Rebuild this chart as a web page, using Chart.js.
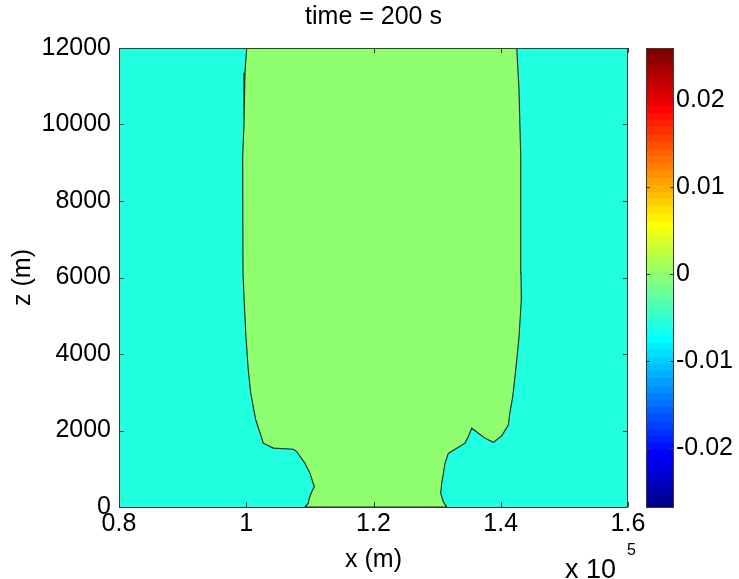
<!DOCTYPE html>
<html lang="en">
<head>
    <meta charset="UTF-8">
    <title>time = 200 s</title>
    <style>
        html, body { margin: 0; padding: 0; background: #fff; }
        #wrap { width: 739px; height: 579px; }
    </style>
</head>
<body>

    <div id="wrap"><canvas id="contourChart" width="739" height="579"></canvas></div>

    <script src="https://cdn.jsdelivr.net/npm/chart.js"></script>
    <script>
        // contour boundary between the two filled levels (top -> bottom)
        const leftX = [100070, 99800, 99650, 99440, 99490, 99690, 99960, 100320, 100700, 101490, 102160, 102680, 104250, 107400, 107930, 109230, 110020, 110700, 110290, 109910, 109750, 109230];
        const leftZ = [12000, 11350, 10040, 9150, 6120, 5330, 4440, 3580, 2980, 2280, 1940, 1670, 1540, 1510, 1450, 1140, 880, 530, 400, 230, 100, 0];
        const rightX = [142510, 142870, 143140, 143180, 143230, 142870, 142350, 141880, 141450, 141190, 140150, 138830, 137520, 135430, 134900, 134380, 131760, 131240, 130720, 130560, 130970, 131500];
        const rightZ = [12000, 10900, 9150, 6120, 5410, 4440, 3580, 2880, 2480, 2140, 1860, 1690, 1800, 2060, 1840, 1670, 1400, 1140, 620, 360, 140, 0];

        // axes
        const xTicks = [80000, 100000, 120000, 140000, 160000];
        const zTicks = [0, 2000, 4000, 6000, 8000, 10000, 12000];
        const cbTicks = [-0.02, -0.01, 0, 0.01, 0.02];
        const cbMin = -0.0268;
        const cbMax = 0.0260;

        const titleText = 'time = 200 s';
        const FONT = "'Liberation Sans', Helvetica, Arial, sans-serif";
        const outerColor = 'rgb(32,255,223)';
        const innerColor = 'rgb(143,255,112)';

        // MATLAB jet(n), k = 1..n
        function jet(k, n) {
            const m = Math.ceil(n / 4);
            const u = [];
            for (let i = 1; i <= m; i++) u.push(i / m);
            for (let i = 1; i < m; i++) u.push(1);
            for (let i = m; i >= 1; i--) u.push(i / m);
            const off = Math.ceil(m / 2) - (n % 4 === 1 ? 1 : 0);
            const gi = k - off;
            const ri = gi - m;
            const bi = gi + m;
            const pick = (j) => (j >= 1 && j <= u.length) ? u[j - 1] : 0;
            const c = (v) => Math.round(v * 255);
            return 'rgb(' + c(pick(ri)) + ',' + c(pick(gi)) + ',' + c(pick(bi)) + ')';
        }

        // polygon of the inner region
        const poly = [];
        leftX.forEach((x, i) => poly.push({x: x, y: leftZ[i]}));
        for (let i = rightX.length - 1; i >= 0; i--) poly.push({x: rightX[i], y: rightZ[i]});

        const matlabLook = {
            id: 'matlabLook',
            beforeDraw(chart) {
                const a = chart.chartArea;
                const ctx = chart.ctx;
                ctx.save();
                ctx.fillStyle = outerColor;
                ctx.fillRect(a.left, a.top, a.right - a.left, a.bottom - a.top);
                ctx.restore();
            },
            afterDraw(chart) {
                const a = chart.chartArea;
                const ctx = chart.ctx;
                const xs = chart.scales.x, ys = chart.scales.y, cb = chart.scales.cb;
                ctx.save();
                ctx.strokeStyle = '#3a3a3a';
                ctx.lineWidth = 1;
                ctx.strokeRect(a.left + 0.5, a.top + 0.5, a.right - a.left - 1, a.bottom - a.top);

                // inward ticks
                ctx.beginPath();
                xTicks.forEach(v => {
                    const px = Math.round(xs.getPixelForValue(v)) + 0.5;
                    ctx.moveTo(px, a.bottom); ctx.lineTo(px, a.bottom - 5);
                    ctx.moveTo(px, a.top); ctx.lineTo(px, a.top + 5);
                });
                zTicks.forEach(v => {
                    const py = Math.round(ys.getPixelForValue(v)) + 0.5;
                    ctx.moveTo(a.left, py); ctx.lineTo(a.left + 5, py);
                    ctx.moveTo(a.right, py); ctx.lineTo(a.right - 5, py);
                });
                ctx.stroke();

                // colorbar
                const bx0 = 646, bx1 = 673;
                const n = 64;
                for (let i = 0; i < n; i++) {
                    const v0 = cbMin + i * (cbMax - cbMin) / n;
                    const v1 = cbMin + (i + 1) * (cbMax - cbMin) / n;
                    const y0 = cb.getPixelForValue(v0), y1 = cb.getPixelForValue(v1);
                    ctx.fillStyle = jet(i + 1, n);
                    ctx.fillRect(bx0, Math.floor(y1), bx1 - bx0, Math.ceil(y0) - Math.floor(y1));
                }
                ctx.strokeStyle = '#3a3a3a';
                ctx.strokeRect(bx0 + 0.5, a.top + 0.5, bx1 - bx0, a.bottom - a.top);
                ctx.beginPath();
                cbTicks.forEach(v => {
                    const py = Math.round(cb.getPixelForValue(v)) + 0.5;
                    ctx.moveTo(bx0, py); ctx.lineTo(bx0 + 4, py);
                    ctx.moveTo(bx1 + 1, py); ctx.lineTo(bx1 - 3, py);
                });
                ctx.stroke();

                // title
                ctx.fillStyle = '#000';
                ctx.textAlign = 'center';
                ctx.textBaseline = 'middle';
                ctx.font = '25px ' + FONT;
                ctx.fillText(titleText, (a.left + a.right) / 2, 17);

                // axis multiplier
                ctx.textBaseline = 'alphabetic';
                ctx.textAlign = 'left';
                ctx.font = '27px ' + FONT;
                ctx.fillText('x 10', 565, 578);
                ctx.font = '16px ' + FONT;
                ctx.fillText('5', 627, 555);
                ctx.restore();
            }
        };

        Chart.defaults.color = '#000';
        Chart.defaults.font.family = FONT;

        const ctx = document.getElementById('contourChart').getContext('2d');
        const contourChart = new Chart(ctx, {
            type: 'scatter',
            data: {
                datasets: [{
                    label: 'level',
                    data: poly,
                    showLine: true,
                    pointRadius: 0,
                    borderColor: '#12261c',
                    borderWidth: 1.1,
                    backgroundColor: innerColor,
                    fill: 'shape'
                }]
            },
            options: {
                responsive: false,
                animation: false,
                layout: { padding: { top: 48, left: 0, right: 0, bottom: 0 } },
                plugins: {
                    legend: { display: false },
                    tooltip: { enabled: false },
                    title: { display: false }
                },
                scales: {
                    x: {
                        type: 'linear',
                        min: 80000,
                        max: 160000,
                        afterFit: s => { s.height = 72; },
                        afterBuildTicks: s => { s.ticks = xTicks.map(v => ({value: v})); },
                        grid: { display: false, drawTicks: false },
                        border: { display: false },
                        ticks: { font: { size: 25 }, padding: 2, maxRotation: 0, callback: v => String(v / 1e5) },
                        title: { display: true, text: 'x (m)', font: { size: 25 }, padding: { bottom: 4 } }
                    },
                    y: {
                        type: 'linear',
                        min: 0,
                        max: 12000,
                        afterFit: s => { s.width = 119; },
                        afterBuildTicks: s => { s.ticks = zTicks.map(v => ({value: v})); },
                        grid: { display: false, drawTicks: false },
                        border: { display: false },
                        ticks: { font: { size: 25 }, padding: 8, callback: v => String(v) },
                        title: { display: true, text: 'z (m)', font: { size: 25 }, padding: { top: 8 } }
                    },
                    cb: {
                        type: 'linear',
                        position: 'right',
                        min: cbMin,
                        max: cbMax,
                        afterFit: s => { s.width = 111; },
                        afterBuildTicks: s => { s.ticks = cbTicks.map(v => ({value: v})); },
                        grid: { display: false, drawTicks: true, tickLength: 48 },
                        border: { display: false },
                        ticks: { font: { size: 25 }, padding: 0, callback: v => String(v) }
                    }
                }
            },
            plugins: [matlabLook]
        });
    </script>

</body>
</html>
